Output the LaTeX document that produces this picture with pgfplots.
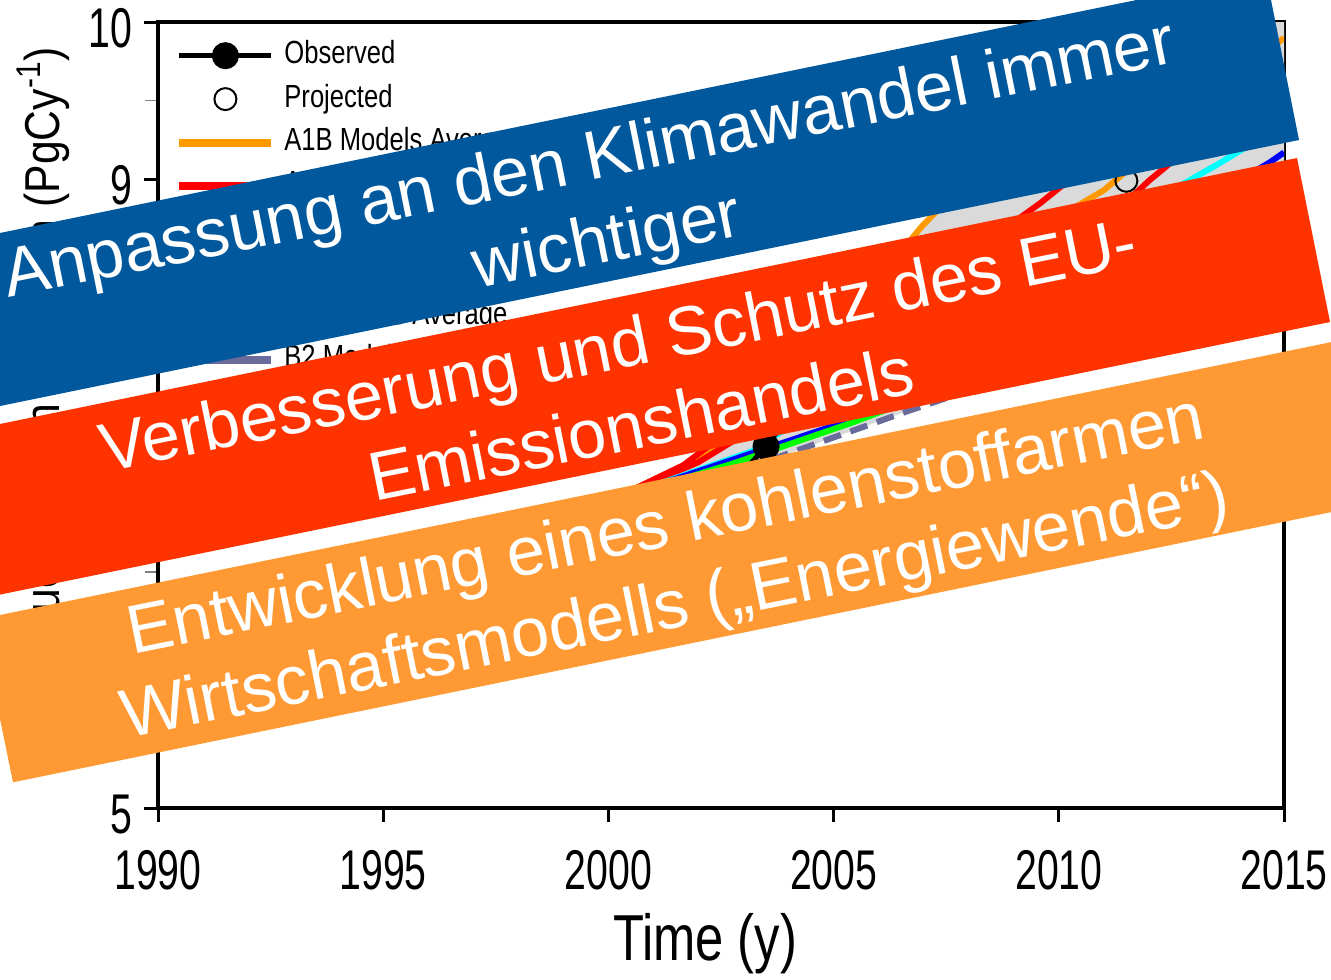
\documentclass[border=0pt]{standalone}
\usepackage{pgfplots}
\pgfplotsset{compat=1.18}
\usepackage{fontspec}
\setmainfont{Liberation Sans}
\newfontfamily\chartfont[FakeStretch=0.78]{Liberation Sans}
\newfontfamily\tickfont[FakeStretch=0.7]{Liberation Sans}
\newfontfamily\legfont[FakeStretch=0.8]{Liberation Sans}
\newfontfamily\labelfont[FakeStretch=0.87]{Liberation Sans}
\newfontfamily\bannerfont{Liberation Sans}
\definecolor{bannerblue}{RGB}{2,88,156}
\definecolor{bannerred}{RGB}{255,51,0}
\definecolor{bannerorange}{RGB}{255,153,51}
\definecolor{bandgrey}{RGB}{218,218,218}
\definecolor{aob}{RGB}{255,153,0}
\definecolor{cyn}{RGB}{0,255,255}
\definecolor{slate}{RGB}{107,107,155}
\begin{document}
\begin{tikzpicture}
\path[use as bounding box] (0pt,0pt) rectangle (665.5pt,-489.5pt);
\begin{axis}[
  at={(79pt,-404pt)}, anchor=south west,
  width=563pt, height=393pt, scale only axis,
  xmin=1990, xmax=2015, ymin=5, ymax=10,
  axis line style={line width=1.6pt},
  xtick={1990,1995,2000,2005,2010,2015},
  ytick={5,6,7,8,9,10},
  minor ytick={5.5,6.5,7.5,8.5,9.5},
  minor xtick={},
  tick align=outside,
  xtick pos=left, ytick pos=left,
  major tick length=7pt, minor tick length=6.5pt,
  every major tick/.append style={line width=1.5pt, black},
  every minor tick/.append style={line width=0.8pt, gray},
  /pgf/number format/assume math mode=true,
  /pgf/number format/1000 sep={},
  ticklabel style={font={\tickfont\fontsize{28}{28}\selectfont}},
  xticklabel style={yshift=-10.5pt},
  yticklabel style={yshift=-3pt, xshift=-2.5pt},
  xlabel={Time (y)},
  xlabel style={font={\chartfont\fontsize{32.5}{32.5}\selectfont}, at={(axis description cs:0.4858,-0.1934)}, anchor=base},
  ylabel={Fossil Fuel Carbon Emission (PgCy\textsuperscript{-1})},
  ylabel style={font={\labelfont\fontsize{24.5}{24.5}\selectfont}, at={(axis description cs:-0.0879,0.5134)}, anchor=base},
  legend style={at={(0.0151,0.978)}, anchor=north west, draw=none, fill=none,
    inner sep=0pt, row sep=5.7pt, column sep=4.5pt,
    font={\legfont\fontsize{16}{16}\selectfont},
    nodes={inner sep=0pt, text height=12pt, text depth=4pt}},
  legend cell align=left,
  legend image code/.code={\draw[mark repeat=2,mark phase=2,#1] plot coordinates {(0pt,0pt) (23pt,0pt) (46pt,0pt)};},
]
\addlegendimage{black, line width=2.5pt, mark=*, mark size=5.5pt}
\addlegendentry{Observed}
\addlegendimage{only marks, black, mark=o, mark size=5.5pt, mark options={line width=1pt}}
\addlegendentry{Projected}
\addlegendimage{aob, line width=4pt}
\addlegendentry{A1B Models Average}
\addlegendimage{red, line width=4pt}
\addlegendentry{A1FI Models Average}
\addlegendimage{cyn, line width=4pt}
\addlegendentry{A1T Models Average}
\addlegendimage{blue, line width=4pt}
\addlegendentry{A2 Models Average}
\addlegendimage{green, line width=4pt}
\addlegendentry{B1 Models Average}
\addlegendimage{slate, line width=4pt}
\addlegendentry{B2 Models Average}

% range of all models
\addplot[draw=none, fill=bandgrey, forget plot] coordinates {
 (2000,6.95) (2001.66,7.18) (2002,7.25) (2004.5,7.85) (2006.96,8.70) (2010,9.6) (2015,10.6)
 (2015,8.3) (2010,7.85) (2006.6,7.52) (2003.75,7.23) (2000,6.95)};

\addplot[aob, line width=3pt, forget plot] coordinates {(2000,6.95) (2001.9,7.21) (2004.5,7.85) (2006.96,8.70) (2010,9.6) (2015,10.6)};
\addplot[aob, line width=3pt, forget plot] coordinates {(2000,6.95) (2002.2,7.25) (2007,8.25) (2011,8.93) (2015,9.9)};
\addplot[red, line width=3pt, forget plot] coordinates {(2000,6.95) (2001.66,7.18) (2005,7.9) (2009.6,8.85) (2015,10.1)};
\addplot[red, line width=3pt, forget plot] coordinates {(2000,6.95) (2002,7.2) (2006,7.9) (2010,8.45) (2012,8.99) (2015,9.7)};
\addplot[cyn, line width=3pt, forget plot] coordinates {(2000,6.95) (2003.2,7.27) (2008,8.2) (2013.5,9.09) (2015,9.35)};
\addplot[blue, line width=3pt, forget plot] coordinates {(2000,6.95) (2002.7,7.21) (2005.4,7.47) (2010,8.3) (2014.7,9.11) (2015,9.17)};
\addplot[green, line width=3pt, forget plot] coordinates {(2000,6.95) (2002.75,7.19) (2005.4,7.45) (2010,7.95) (2015,8.5)};
\addplot[slate, line width=3pt, dash pattern=on 9pt off 5pt, forget plot] coordinates {(2000,6.95) (2003.75,7.23) (2006.6,7.52) (2010,7.85) (2015,8.3)};

\addplot[black, line width=2.5pt, mark=*, mark size=5.5pt, forget plot] coordinates {
 (1990.5,6.10) (1991.5,6.17) (1992.5,6.10) (1993.5,6.12) (1994.5,6.24) (1995.5,6.40)
 (1996.5,6.53) (1997.5,6.61) (1998.5,6.56) (1999.5,6.60) (2000.5,6.76) (2001.5,6.90)
 (2002.5,6.98) (2003.5,7.30) (2004.5,7.68) (2005.5,7.97) (2006.5,8.22) (2007.5,8.45)
 (2008.5,8.62) (2009.5,8.55)};
\addplot[only marks, black, mark=o, mark size=5.5pt, mark options={line width=1pt}, forget plot] coordinates {(2011.5,8.99)};
\end{axis}

\begin{scope}[x=0.5pt,y=-0.5pt]
\clip (0,0) rectangle (1331,979);
\fill[bannerblue] (-60,245.3) -- (1265.7,-26.5) -- (1299,140) -- (-60,418.3) -- cycle;
\fill[bannerred] (-60,436.3) -- (1297,158) -- (1330,322) -- (-60,606.9) -- cycle;
\fill[bannerorange] (-20.4,619.2) -- (1400,328) -- (1400,498) -- (13,782.3) -- cycle;
\tikzset{btext/.style={text=white, inner sep=0pt, anchor=base, rotate=11.4,
  font={\bannerfont\fontsize{34.4}{34.4}\selectfont}}}
\node[btext] at (593,180) {Anpassung an den Klimawandel immer};
\node[btext] at (611,261.5) {wichtiger};
\node[btext] at (623,368) {Verbesserung und Schutz des EU-};
\node[btext] at (646,447) {Emissionshandels};
\node[btext] at (670,546) {Entwicklung eines kohlenstoffarmen};
\node[btext] at (679,627) {Wirtschaftsmodells („Energiewende“)};
\end{scope}
\end{tikzpicture}
\end{document}
